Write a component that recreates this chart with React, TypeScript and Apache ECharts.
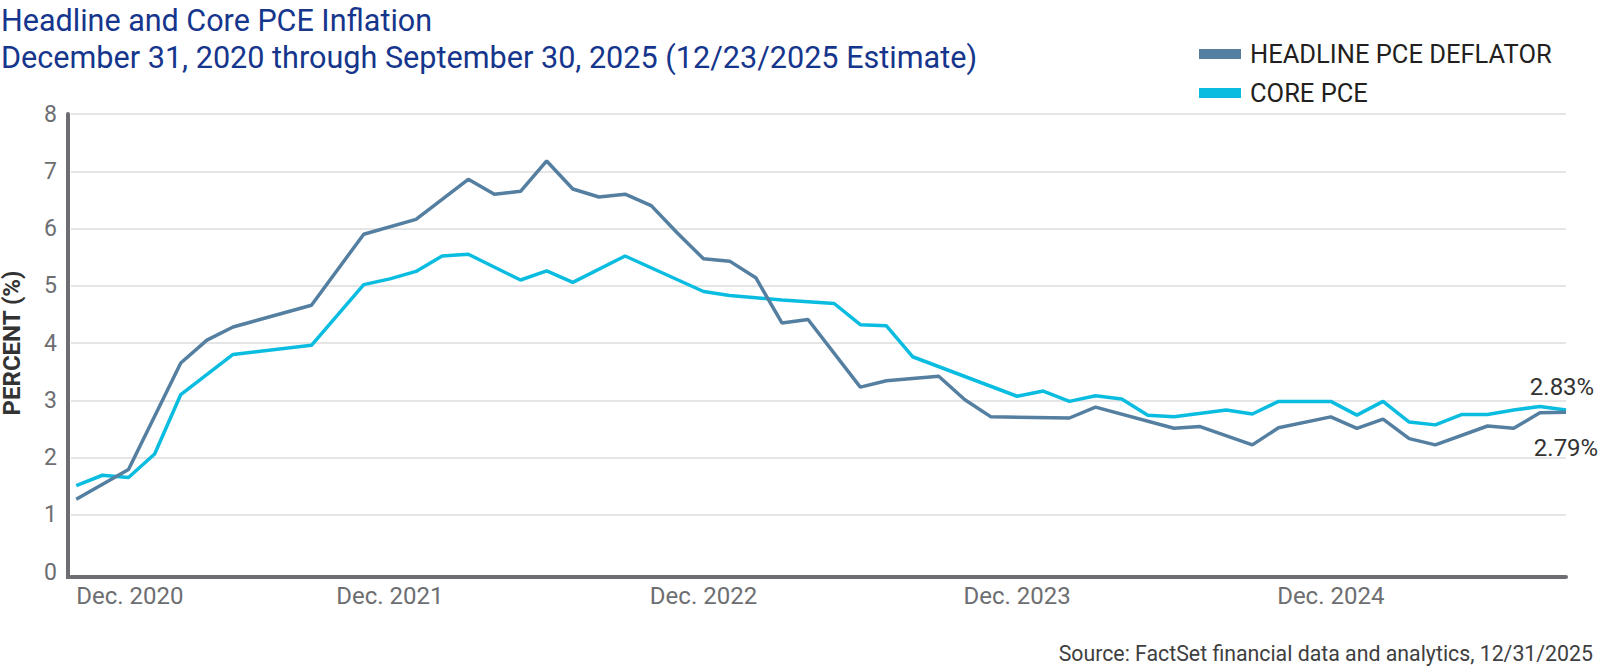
import React, { useEffect, useRef } from "react";
import * as echarts from "echarts";

// Monthly observation dates (Dec 2020 .. Sep 2025)
const months: string[] = [
  "2020-12",
  "2021-01", "2021-02", "2021-03", "2021-04", "2021-05", "2021-06",
  "2021-07", "2021-08", "2021-09", "2021-10", "2021-11", "2021-12",
  "2022-01", "2022-02", "2022-03", "2022-04", "2022-05", "2022-06",
  "2022-07", "2022-08", "2022-09", "2022-10", "2022-11", "2022-12",
  "2023-01", "2023-02", "2023-03", "2023-04", "2023-05", "2023-06",
  "2023-07", "2023-08", "2023-09", "2023-10", "2023-11", "2023-12",
  "2024-01", "2024-02", "2024-03", "2024-04", "2024-05", "2024-06",
  "2024-07", "2024-08", "2024-09", "2024-10", "2024-11", "2024-12",
  "2025-01", "2025-02", "2025-03", "2025-04", "2025-05", "2025-06",
  "2025-07", "2025-08", "2025-09",
];

// Headline PCE deflator, YoY % (null = no observation plotted)
const headlineValues: (number | null)[] = [
  1.27,
  null, 1.79, null, 3.65, 4.05, 4.28,
  null, null, 4.66, null, 5.90, null,
  6.16, null, 6.86, 6.60, 6.65, 7.18,
  6.69, 6.55, 6.60, 6.40, 5.92, 5.47,
  5.43, 5.14, 4.35, 4.41, null, 3.23,
  3.34, null, 3.42, 3.01, 2.71, null,
  null, 2.69, 2.88, null, null, 2.51,
  2.54, null, 2.22, 2.52, null, 2.71,
  2.51, 2.67, 2.33, 2.22, null, 2.55,
  2.51, 2.78, 2.79,
];

// Core PCE, YoY %
const coreValues: (number | null)[] = [
  1.51,
  1.69, 1.65, 2.06, 3.10, null, 3.80,
  null, null, 3.96, null, 5.02, 5.12,
  5.25, 5.52, 5.55, null, 5.10, 5.26,
  5.06, null, 5.52, null, null, 4.90,
  4.83, 4.79, 4.75, 4.72, 4.69, 4.32,
  4.30, 3.76, null, null, null, 3.07,
  3.16, 2.98, 3.08, 3.02, 2.74, 2.71,
  null, 2.83, 2.76, 2.98, null, 2.98,
  2.74, 2.98, 2.62, 2.57, 2.75, 2.75,
  2.83, 2.89, 2.83,
];

// Months that carry an x-axis label (December of each year)
const labelMonths: string[] = ["2020-12", "2021-12", "2022-12", "2023-12", "2024-12"];
const seriesNames: string[] = ["HEADLINE PCE DEFLATOR", "CORE PCE"];
const endLabels: string[] = ["2.79%", "2.83%"];
const titleText = "Headline and Core PCE Inflation";
const subtitleText = "December 31, 2020 through September 30, 2025 (12/23/2025 Estimate)";
const sourceText = "Source: FactSet financial data and analytics, 12/31/2025";
const yAxisName = "PERCENT (%)";

const HEADLINE_COLOR = "#547fa0";
const CORE_COLOR = "#0abde0";
const AXIS_COLOR = "#6d6e71";
const TITLE_COLOR = "#15368c";

const monthLabel = (idx: number) => {
  const m = months[Math.round(idx)];
  if (!m) return "";
  const [y, mo] = m.split("-");
  const names = ["Jan.", "Feb.", "Mar.", "Apr.", "May", "Jun.", "Jul.", "Aug.", "Sep.", "Oct.", "Nov.", "Dec."];
  return names[parseInt(mo, 10) - 1] + " " + y;
};

function buildData(values: (number | null)[]) {
  return months
    .map((_, i) => [i, values[i]] as [number, number | null])
    .filter((d) => d[1] !== null);
}

function lastPoint(values: (number | null)[]) {
  for (let i = values.length - 1; i >= 0; i--) {
    if (values[i] !== null) return [i, values[i] as number];
  }
  return [0, 0];
}

function endMark(values: (number | null)[], text: string, above: boolean) {
  return {
    silent: true,
    symbol: "circle",
    symbolSize: 1,
    itemStyle: { color: "rgba(0,0,0,0)" },
    data: [
      {
        coord: lastPoint(values),
        label: {
          show: true,
          formatter: text,
          position: above ? "top" : "bottom",
          distance: above ? 10 : 23,
          offset: above ? [-4, 0] : [0, 0],
          fontSize: 24,
          color: "#333333",
          fontFamily: "Roboto",
        },
      },
    ],
  };
}

export default function App() {
  const ref = useRef<HTMLDivElement>(null);

  useEffect(() => {
    if (!ref.current) return;
    const chart = echarts.init(ref.current, undefined, { renderer: "svg" });
    const option: any = {
      animation: false,
      backgroundColor: "#ffffff",
      textStyle: { fontFamily: "Roboto" },
      title: {
        text: titleText,
        subtext: subtitleText,
        left: 1,
        top: 5,
        padding: 0,
        itemGap: 6,
        textStyle: { fontSize: 30.5, fontWeight: "normal", color: TITLE_COLOR, fontFamily: "Roboto" },
        subtextStyle: { fontSize: 30.6, color: TITLE_COLOR, fontFamily: "Roboto" },
      },
      legend: {
        orient: "vertical",
        left: 1199,
        top: 41,
        padding: 0,
        itemWidth: 42,
        itemHeight: 10,
        itemGap: 13,
        icon: "rect",
        data: seriesNames,
        textStyle: { fontSize: 25.5, color: "#231f20", fontFamily: "Roboto", padding: [0, 0, 0, 4] },
      },
      grid: { left: 71, right: 34, top: 114, bottom: 95, containLabel: false, outerBoundsMode: "none" },
      xAxis: {
        type: "value",
        min: -0.2,
        max: months.length - 1,
        offset: 5,
        axisLine: { show: true, onZero: false, lineStyle: { color: AXIS_COLOR, width: 4 } },
        axisTick: { show: false },
        splitLine: { show: false },
        axisLabel: {
          customValues: labelMonths.map((m) => months.indexOf(m)),
          formatter: (v: number) => monthLabel(v),
          color: AXIS_COLOR,
          fontSize: 24,
          margin: 7,
          alignMinLabel: "left",
          showMinLabel: true,
          showMaxLabel: true,
        },
      },
      yAxis: {
        type: "value",
        min: 0,
        max: 8,
        interval: 1,
        offset: 3,
        axisLine: { show: true, onZero: false, lineStyle: { color: AXIS_COLOR, width: 4 } },
        axisTick: { show: false },
        splitLine: { show: true, showMinLine: false, lineStyle: { color: "#dcdcdc", width: 1.5 } },
        axisLabel: { color: AXIS_COLOR, fontSize: 23, margin: 11 },
        name: yAxisName,
        nameLocation: "middle",
        nameGap: 44,
        nameTextStyle: { fontSize: 24, fontWeight: "bold", color: "#333333" },
      },
      graphic: [
        { type: "rect", shape: { x: 66, y: 570, width: 4, height: 9 }, style: { fill: AXIS_COLOR }, silent: true },
        {
          type: "text",
          right: 7,
          top: 643,
          style: { text: sourceText, fontSize: 21.3, fill: "#404040", fontFamily: "Roboto" },
        },
      ],
      series: [
        {
          name: seriesNames[1],
          type: "line",
          data: buildData(coreValues),
          showSymbol: false,
          symbol: "none",
          lineStyle: { color: CORE_COLOR, width: 3.5 },
          itemStyle: { color: CORE_COLOR },
          markPoint: endMark(coreValues, endLabels[1], true),
          z: 2,
        },
        {
          name: seriesNames[0],
          type: "line",
          data: buildData(headlineValues),
          showSymbol: false,
          symbol: "none",
          lineStyle: { color: HEADLINE_COLOR, width: 3.5 },
          itemStyle: { color: HEADLINE_COLOR },
          markPoint: endMark(headlineValues, endLabels[0], false),
          z: 3,
        },
      ],
    };
    chart.setOption(option);
    return () => chart.dispose();
  }, []);

  return (
    <div
      ref={ref}
      style={{ position: "fixed", left: 0, top: 0, width: 1600, height: 667, background: "#fff" }}
    />
  );
}
